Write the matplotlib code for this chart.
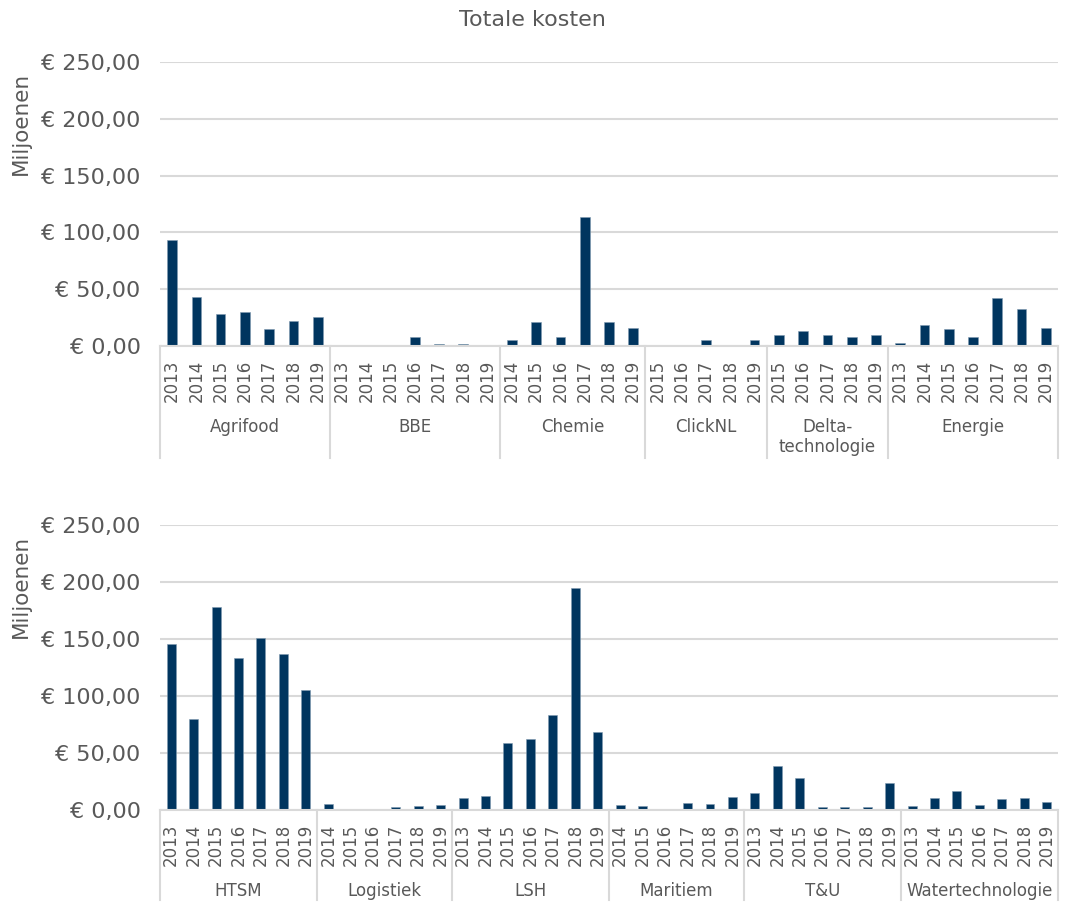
import matplotlib.pyplot as plt
from matplotlib.ticker import FuncFormatter

# top panel
top_groups = ["Agrifood", "BBE", "Chemie", "ClickNL", "Delta-\ntechnologie", "Energie"]
top_years = [
    [2013, 2014, 2015, 2016, 2017, 2018, 2019],
    [2013, 2014, 2015, 2016, 2017, 2018, 2019],
    [2014, 2015, 2016, 2017, 2018, 2019],
    [2015, 2016, 2017, 2018, 2019],
    [2015, 2016, 2017, 2018, 2019],
    [2013, 2014, 2015, 2016, 2017, 2018, 2019],
]
top_values = [
    [93.0, 43.0, 28.0, 30.0, 15.0, 22.0, 25.5],
    [0.3, 0.0, 0.5, 8.0, 2.0, 2.0, 0.5],
    [5.0, 21.0, 8.0, 113.5, 21.0, 16.0],
    [0.5, 1.0, 5.5, 0.5, 5.0],
    [9.5, 13.0, 10.0, 7.5, 10.0],
    [3.0, 18.5, 15.0, 8.0, 42.5, 33.0, 16.0],
]

# bottom panel
bottom_groups = ["HTSM", "Logistiek", "LSH", "Maritiem", "T&U", "Watertechnologie"]
bottom_years = [
    [2013, 2014, 2015, 2016, 2017, 2018, 2019],
    [2014, 2015, 2016, 2017, 2018, 2019],
    [2013, 2014, 2015, 2016, 2017, 2018, 2019],
    [2014, 2015, 2016, 2017, 2018, 2019],
    [2013, 2014, 2015, 2016, 2017, 2018, 2019],
    [2013, 2014, 2015, 2016, 2017, 2018, 2019],
]
bottom_values = [
    [146.0, 80.0, 178.0, 133.0, 150.5, 137.0, 105.0],
    [5.3, 0.5, 0.5, 2.3, 3.8, 4.4],
    [10.5, 12.6, 59.0, 62.0, 83.5, 194.5, 68.5],
    [4.7, 3.8, 1.2, 6.0, 5.5, 11.7],
    [14.6, 38.5, 27.8, 2.3, 2.3, 2.9, 24.0],
    [3.8, 10.8, 16.4, 4.7, 9.7, 10.8, 7.0],
]

BAR = "#00355F"
GRID = "#D9D9D9"
TEXT = "#595959"


def euro(v, pos):
    return ("€ %.2f" % v).replace(".", ",")


def draw_panel(ax, groups, years, values, sep_depth, label_y):
    x = 0
    ticks = []
    labels = []
    bounds = [-0.5]
    centers = []
    for yrs, vals in zip(years, values):
        pos = list(range(x, x + len(yrs)))
        ax.bar(pos, vals, width=0.4, color=BAR, edgecolor="#7F9AB0", linewidth=0.4, zorder=3)
        ticks += pos
        labels += [str(y) for y in yrs]
        centers.append((pos[0] + pos[-1]) / 2)
        x += len(yrs)
        bounds.append(x - 0.5)

    ax.set_xlim(-0.5, x - 0.5)
    ax.set_ylim(0, 250)
    ax.set_yticks(range(0, 251, 50))
    ax.yaxis.set_major_formatter(FuncFormatter(euro))
    ax.set_xticks(ticks)
    ax.set_xticklabels(labels, rotation=90, fontsize=12, color=TEXT)
    ax.tick_params(axis="x", length=0, pad=10)
    ax.tick_params(axis="y", length=0, pad=14, labelsize=16, labelcolor=TEXT)
    ax.grid(axis="y", color=GRID, linewidth=1.5, zorder=0)
    for s in ax.spines.values():
        s.set_visible(False)

    tr = ax.get_xaxis_transform()
    ax.plot([-0.5, x - 0.5], [0, 0], color=GRID, lw=1.5, transform=tr, clip_on=False, zorder=4)
    for b in bounds:
        ax.plot([b, b], [0, -sep_depth], color=GRID, lw=1.5, transform=tr, clip_on=False)
    for c, g in zip(centers, groups):
        ax.text(c, label_y, g, transform=tr, ha="center", va="top", fontsize=12,
                color=TEXT, linespacing=1.15)

    ax.set_ylabel("Miljoenen", fontsize=15.5, color=TEXT)
    ax.yaxis.set_label_coords(-0.144, 0.785)


fig = plt.figure(figsize=(10.65, 9.02), dpi=100)
ax1 = fig.add_axes([0.1502, 0.6164, 0.8432, 0.3149])
ax2 = fig.add_axes([0.1502, 0.1020, 0.8432, 0.3160])

draw_panel(ax1, top_groups, top_years, top_values, 0.394, -0.253)
draw_panel(ax2, bottom_groups, bottom_years, bottom_values, 0.316, -0.253)

fig.text(0.5, 0.978, "Totale kosten", ha="center", va="center", fontsize=16, color=TEXT)

fig.savefig("out.png", dpi=100)
